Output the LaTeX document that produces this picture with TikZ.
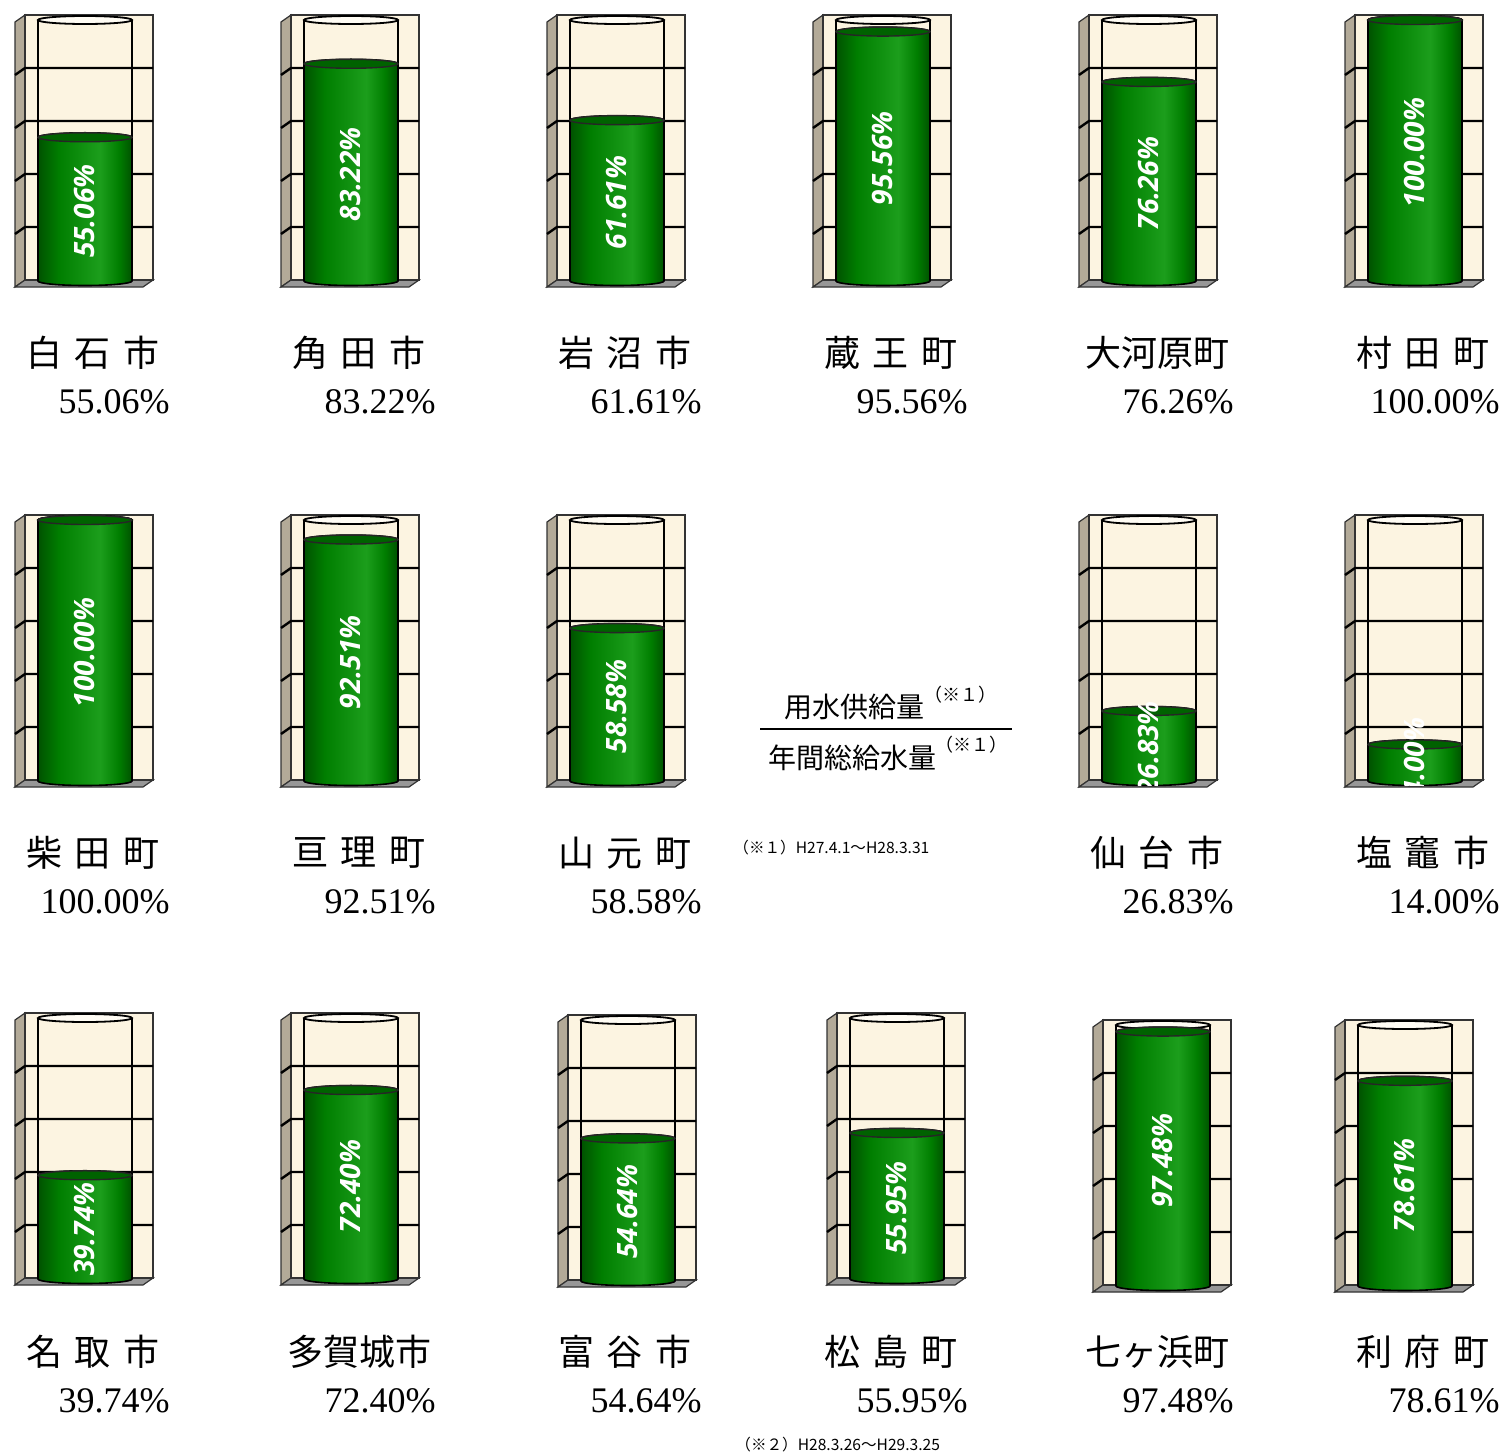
\documentclass[tikz,border=0pt]{standalone}
\usepackage{fontspec}
\setmainfont{Liberation Serif}
\newfontfamily\jpfont[WordSpace=1.6]{Noto Sans CJK JP}
\newfontfamily\barfont{Open Sans}
\usepackage{tikz}
\usetikzlibrary{positioning, calc}
\definecolor{TankBeige}{HTML}{FCF4E1}
\definecolor{TankSide}{HTML}{B3AA98}
\definecolor{TankBottom}{HTML}{979797}
\definecolor{TankEdge}{HTML}{333333}
\definecolor{GlassTop}{HTML}{FFFCF4}
\definecolor{WaterDark}{HTML}{005200}
\definecolor{WaterMid}{HTML}{007E00}
\definecolor{WaterLight}{HTML}{1C9E1C}
\definecolor{WaterTop}{HTML}{006200}
\pgfdeclarehorizontalshading{waterside}{100bp}{color(0bp)=(WaterDark); color(25bp)=(WaterDark); color(36bp)=(WaterMid); color(58bp)=(WaterLight); color(68bp)=(WaterMid); color(75bp)=(WaterDark); color(100bp)=(WaterDark)}
\tikzset{
  sideface/.style={fill=TankSide, draw=TankEdge, line width=0.6pt},
  bottomface/.style={fill=TankBottom, draw=TankEdge, line width=0.6pt},
  frontface/.style={fill=TankBeige, draw=TankEdge, line width=0.8pt},
  gridline/.style={draw=black, line width=1.2pt},
  glassline/.style={draw=black, line width=1pt},
  glasstop/.style={fill=GlassTop, draw=black, line width=0.9pt},
  waterbody/.style={shade, shading=waterside, draw=black, line width=0.8pt},
  watertop/.style={fill=WaterTop, draw=black!85, line width=0.7pt},
  barlabel/.style={text=white, rotate=90, inner sep=0pt, font=\barfont\bfseries\itshape\fontsize{14}{14}\selectfont},
  townname/.style={font=\jpfont\fontsize{18}{18}\selectfont},
  townvalue/.style={anchor=east, inner sep=0pt, font=\fontsize{18}{18}\selectfont},
  fracterm/.style={font=\jpfont\fontsize{14}{14}\selectfont},
  fracbar/.style={draw=black, line width=1.1pt},
  notemark/.style={font=\jpfont\fontsize{9}{9}\selectfont},
  notetext/.style={anchor=west, inner sep=0pt, font=\jpfont\fontsize{7.8}{7.8}\selectfont}
}
% one tank: id, x, y of front face, value
\newcommand{\tank}[4]{%
  \begin{scope}[shift={(#2,#3)}]
    \pgfmathsetmacro{\wtop}{266-2.61*#4}
    \pgfmathsetmacro{\wmid}{(\wtop+266)/2+2}
    \path[sideface] (0,0) -- (0,265) -- (-10,272) -- (-10,7) -- cycle;
    \path[bottomface] (0,265) -- (128,265) -- (118,272) -- (-10,272) -- cycle;
    \path[frontface] (0,0) rectangle (128,265);
    \foreach \k in {1,...,4}
      \draw[gridline] (-10,53*\k+7) -- (0,53*\k) -- (128,53*\k);
    \draw[glassline] (13,5) -- (13,266) (107,5) -- (107,266);
    \path[glasstop] (60,5) ellipse [x radius=47, y radius=4];
    \path[waterbody] (13,\wtop) -- (13,266) arc [start angle=180, end angle=0, x radius=47, y radius=4.5]
      -- (107,\wtop) arc [start angle=0, end angle=-180, x radius=47, y radius=4.5] -- cycle;
    \path[watertop] (60,\wtop) ellipse [x radius=47, y radius=4.5];
    \begin{scope}
      \clip (13,0) rectangle (107,270.5);
      \node[barlabel] (#1-bar) at (60,\wmid) {#4\%};
    \end{scope}
  \end{scope}}
% name and value under a tank: id, x, y, name, value
\newcommand{\townlabel}[5]{%
  \node[townname] (#1-name) at (#2+68,#3) {#4};
  \node[townvalue] (#1-val) at (#2+145,#3+49) {#5\%};}
\begin{document}
\begin{tikzpicture}[x=0.5pt, y=-0.5pt]
  \path[use as bounding box, fill=white] (0,0) rectangle (1511,1456);

  % row 1
  \tank{shiroishi}{25}{15}{55.06}
  \tank{kakuda}{291}{15}{83.22}
  \tank{iwanuma}{557}{15}{61.61}
  \tank{zao}{823}{15}{95.56}
  \tank{ogawara}{1089}{15}{76.26}
  \tank{murata}{1355}{15}{100.00}
  \townlabel{shiroishi}{25}{353}{白 石 市}{55.06}
  \townlabel{kakuda}{291}{353}{角 田 市}{83.22}
  \townlabel{iwanuma}{557}{353}{岩 沼 市}{61.61}
  \townlabel{zao}{823}{353}{蔵 王 町}{95.56}
  \townlabel{ogawara}{1089}{353}{大河原町}{76.26}
  \townlabel{murata}{1355}{353}{村 田 町}{100.00}

  % row 2
  \tank{shibata}{25}{515}{100.00}
  \tank{watari}{291}{515}{92.51}
  \tank{yamamoto}{557}{515}{58.58}
  \tank{sendai}{1089}{515}{26.83}
  \tank{shiogama}{1355}{515}{14.00}
  \townlabel{shibata}{25}{853}{柴 田 町}{100.00}
  \townlabel{watari}{291}{853}{亘 理 町}{92.51}
  \townlabel{yamamoto}{557}{853}{山 元 町}{58.58}
  \townlabel{sendai}{1089}{853}{仙 台 市}{26.83}
  \townlabel{shiogama}{1355}{853}{塩 竈 市}{14.00}

  % formula
  \node[fracterm] (supply) at (854,707) {用水供給量};
  \node[notemark] (supply-note) at (960,695) {（※１）};
  \node[fracterm] (total) at (852,758) {年間総給水量};
  \node[notemark] (total-note) at (971,745) {（※１）};
  \draw[fracbar] (760,729) -- (1012,729);
  \node[notetext] (note1) at (733,848) {（※１）H27.4.1～H28.3.31};

  % row 3
  \tank{natori}{25}{1013}{39.74}
  \tank{tagajo}{291}{1013}{72.40}
  \tank{tomiya}{568}{1015}{54.64}
  \tank{matsushima}{837}{1013}{55.95}
  \tank{shichigahama}{1103}{1020}{97.48}
  \tank{rifu}{1345}{1020}{78.61}
  \townlabel{natori}{25}{1352}{名 取 市}{39.74}
  \townlabel{tagajo}{291}{1352}{多賀城市}{72.40}
  \townlabel{tomiya}{557}{1352}{富 谷 市}{54.64}
  \townlabel{matsushima}{823}{1352}{松 島 町}{55.95}
  \townlabel{shichigahama}{1089}{1352}{七ヶ浜町}{97.48}
  \townlabel{rifu}{1355}{1352}{利 府 町}{78.61}
  \node[notetext] (note2) at (735,1445) {（※２）H28.3.26～H29.3.25};
\end{tikzpicture}
\end{document}
